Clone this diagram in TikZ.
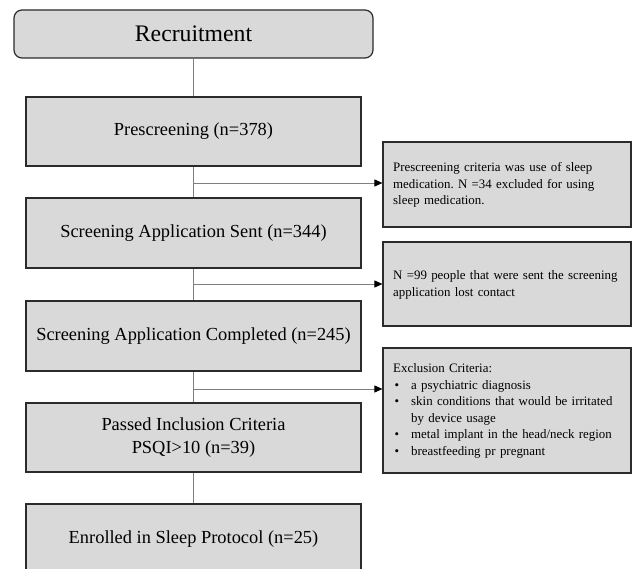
\documentclass[tikz,border=0pt]{standalone}
\usepackage{fontspec}
\setmainfont{Liberation Serif}
\usetikzlibrary{arrows.meta}
\frenchspacing
\definecolor{boxfill}{HTML}{D9D9D9}
\definecolor{boxline}{HTML}{2B2B2B}
\definecolor{linkgray}{HTML}{7F7F7F}
% one bulleted entry with a hanging indent for wrapped lines
\newcommand\critline[1]{\par\hangindent=18pt\hangafter=1\noindent\makebox[18pt][l]{\hspace{1.5pt}\textbullet}#1}
\tikzset{
  stage/.style={draw=boxline, line width=1.2pt, fill=boxfill, minimum width=335pt,
    inner sep=0pt, align=center, font=\fontsize{18.4}{23}\selectfont},
  note/.style={draw=boxline, line width=1.2pt, fill=boxfill, minimum width=248pt, inner sep=0pt},
  notetext/.style={anchor=base west, inner sep=0pt, text width=236pt, align=left,
    font=\frenchspacing\fontsize{12.9}{16.4}\selectfont},
  link/.style={draw=linkgray, line width=0.9pt},
  arrowlink/.style={link, -{Triangle[length=8pt,width=7pt,color=black]}},
}
\begin{document}
\begin{tikzpicture}[x=1pt,y=-1pt]
\useasboundingbox (0,0) rectangle (632,569);
\clip (0,0) rectangle (632,569);

% main flow
\node[stage, rounded corners=8pt, minimum width=359pt, minimum height=48pt,
  font=\rmfamily\fontsize{23.7}{28}\selectfont] (rec) at (193.5,34) {Recruitment};
\node[stage, minimum height=69pt] (pre)  at (193.5,131.5) {Prescreening (n=378)};
\node[stage, minimum height=70pt] (sent) at (193.5,233)   {Screening Application Sent (n=344)};
\node[stage, minimum height=70pt] (comp) at (193.5,336)   {Screening Application Completed (n=245)};
\node[stage, minimum height=69pt] (pass) at (193.5,437.5) {Passed Inclusion Criteria\\PSQI>10 (n=39)};
\node[stage, minimum height=70pt] (enr)  at (193.5,539)   {Enrolled in Sleep Protocol (n=25)};

% exclusion boxes
\node[note, minimum height=85pt]  (ex1) at (507,184.5) {};
\node[note, minimum height=84pt]  (ex2) at (507,284)   {};
\node[note, minimum height=125pt] (ex3) at (507,410.5) {};

\node[notetext] (ex1t) at (393,172) {Prescreening criteria was use of sleep\\medication. N =34 excluded for using\\sleep medication.};
\node[notetext] (ex2t) at (393,280) {N =99 people that were sent the screening\\application lost contact};
\node[notetext] (ex3t) at (393,373) {Exclusion Criteria:%
  \critline{a psychiatric diagnosis}%
  \critline{skin conditions that would be irritated\hfil\break by device usage}%
  \critline{metal implant in the head/neck region}%
  \critline{breastfeeding pr pregnant}};

% vertical connectors
\draw[link] (rec) -- (pre);
\draw[link] (pre) -- (sent);
\draw[link] (sent) -- (comp);
\draw[link] (comp) -- (pass);
\draw[link] (pass) -- (enr);

% branches to the exclusion boxes
\coordinate (j1) at (193.5,183);
\coordinate (j2) at (193.5,284);
\coordinate (j3) at (193.5,389);
\draw[arrowlink] (j1) -- (j1 -| ex1.west);
\draw[arrowlink] (j2) -- (j2 -| ex2.west);
\draw[arrowlink] (j3) -- (j3 -| ex3.west);
\end{tikzpicture}
\end{document}
